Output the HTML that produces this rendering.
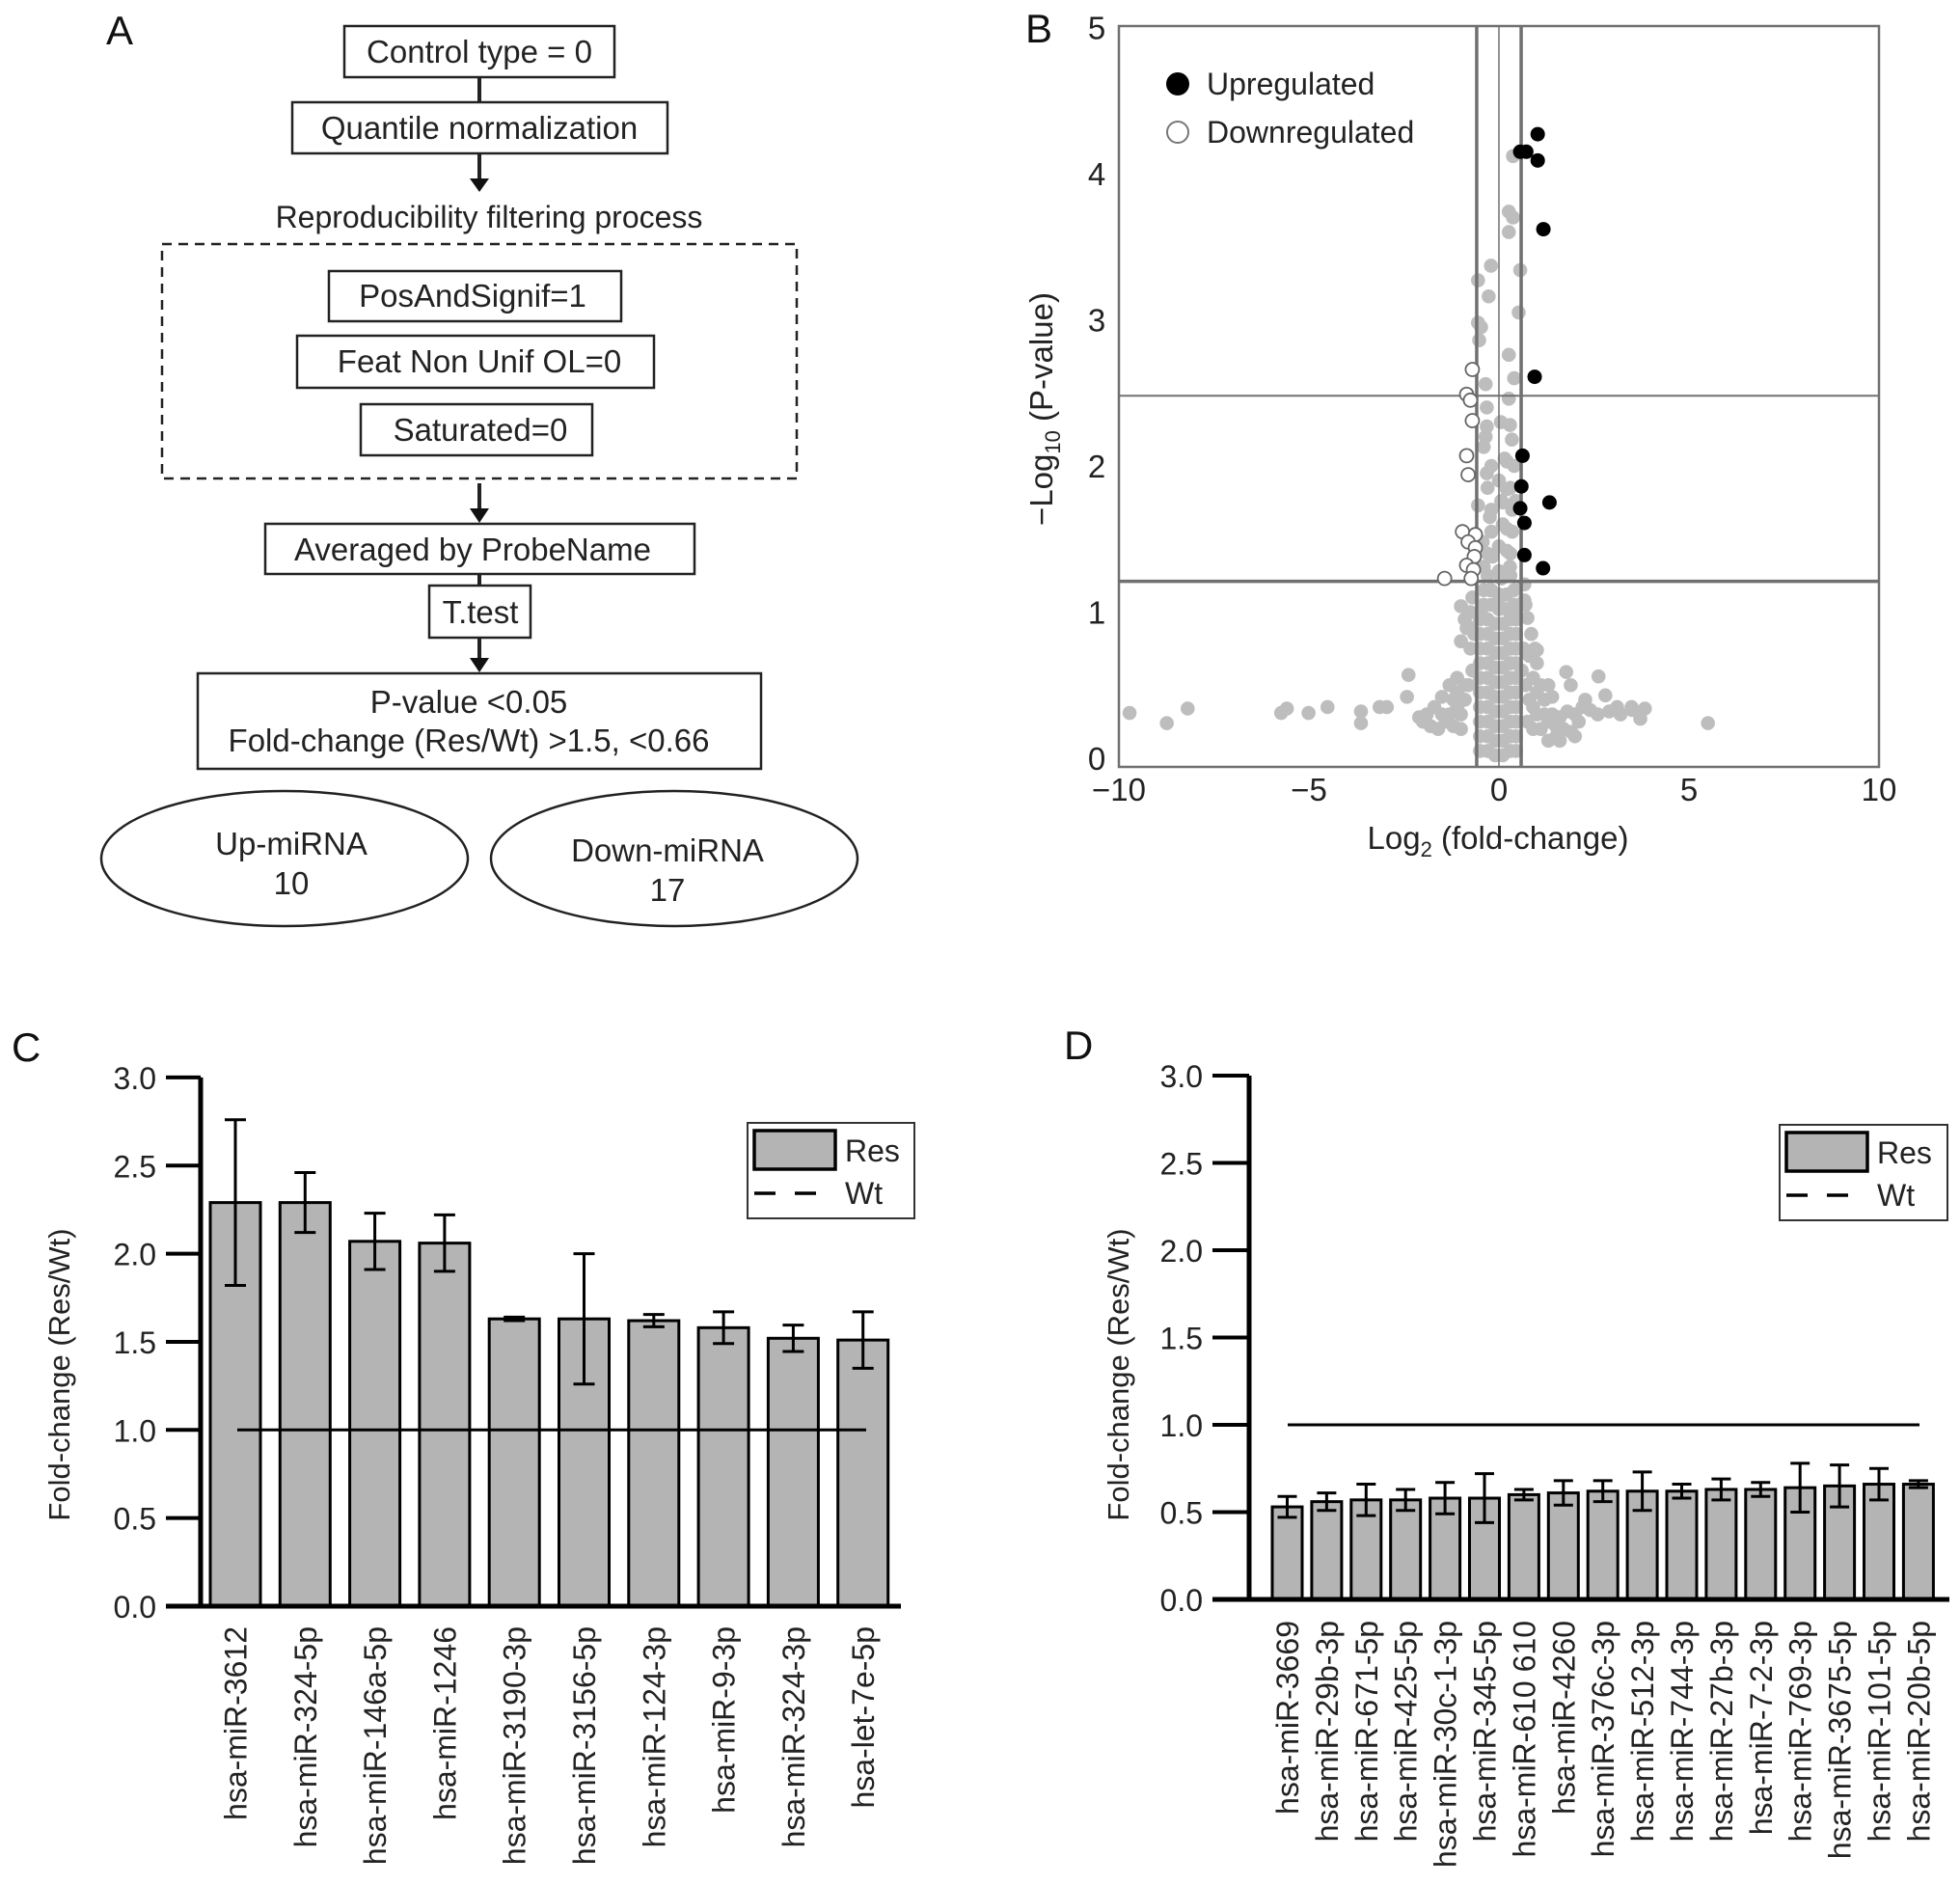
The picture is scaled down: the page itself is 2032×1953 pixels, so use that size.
<!DOCTYPE html>
<html><head><meta charset="utf-8"><style>
html,body{margin:0;padding:0;background:#fff;}
svg{display:block;font-family:"Liberation Sans",Arial,sans-serif;}
</style></head><body>
<svg id="fig" width="2032" height="1953" viewBox="0 0 2032 1953" xmlns="http://www.w3.org/2000/svg">
<rect width="2032" height="1953" fill="#fff"/>
<g id="panelA" fill="none" stroke="#222" stroke-width="2.5" font-size="33">
<text x="110" y="46" font-size="42" fill="#111" stroke="none">A</text>
<rect x="357" y="27" width="280" height="53"/>
<text x="497" y="65" text-anchor="middle" fill="#222" stroke="none">Control type = 0</text>
<line x1="497" y1="80" x2="497" y2="106" stroke-width="4"/>
<rect x="303" y="106" width="389" height="53"/>
<text x="497" y="144" text-anchor="middle" fill="#222" stroke="none">Quantile normalization</text>
<line x1="497" y1="159" x2="497" y2="188" stroke-width="4"/>
<polygon points="487,185 507,185 497,199" fill="#111" stroke="none"/>
<text x="507" y="236" text-anchor="middle" fill="#222" stroke="none" font-size="32">Reproducibility filtering process</text>
<rect x="168" y="253" width="658" height="243" stroke-dasharray="10,7"/>
<rect x="341" y="281" width="303" height="52"/>
<text x="490" y="318" text-anchor="middle" fill="#222" stroke="none">PosAndSignif=1</text>
<rect x="308" y="348" width="370" height="54"/>
<text x="497" y="386" text-anchor="middle" fill="#222" stroke="none">Feat Non Unif OL=0</text>
<rect x="374" y="419" width="240" height="53"/>
<text x="498" y="457" text-anchor="middle" fill="#222" stroke="none">Saturated=0</text>
<line x1="497" y1="501" x2="497" y2="530" stroke-width="4"/>
<polygon points="487,527 507,527 497,542" fill="#111" stroke="none"/>
<rect x="275" y="543" width="445" height="52"/>
<text x="490" y="581" text-anchor="middle" fill="#222" stroke="none">Averaged by ProbeName</text>
<line x1="497" y1="595" x2="497" y2="607" stroke-width="4"/>
<rect x="445" y="607" width="105" height="54"/>
<text x="498" y="646" text-anchor="middle" fill="#222" stroke="none">T.test</text>
<line x1="497" y1="661" x2="497" y2="684" stroke-width="4"/>
<polygon points="487,682 507,682 497,697" fill="#111" stroke="none"/>
<rect x="205" y="698" width="584" height="99"/>
<text x="486" y="739" text-anchor="middle" fill="#222" stroke="none">P-value &lt;0.05</text>
<text x="486" y="779" text-anchor="middle" fill="#222" stroke="none">Fold-change (Res/Wt) &gt;1.5, &lt;0.66</text>
<ellipse cx="295" cy="890" rx="190" ry="70"/>
<text x="302" y="886" text-anchor="middle" fill="#222" stroke="none">Up-miRNA</text>
<text x="302" y="927" text-anchor="middle" fill="#222" stroke="none">10</text>
<ellipse cx="699" cy="890" rx="190" ry="70"/>
<text x="692" y="893" text-anchor="middle" fill="#222" stroke="none">Down-miRNA</text>
<text x="692" y="934" text-anchor="middle" fill="#222" stroke="none">17</text>
</g>
<g id="panelB"></g>
<g id="panelC"></g>
<g id="panelD"></g>
</svg>
<script>
// ---------- Volcano data ----------
const upX = [1.02,0.56,0.72,1.02,1.17,0.94,0.62,0.59,1.33,0.56,0.67,0.67,1.16];
const upY = [4.27,4.15,4.15,4.09,3.62,2.61,2.07,1.86,1.75,1.71,1.61,1.39,1.30];
const downX = [-0.70,-0.85,-0.75,-0.70,-0.85,-0.81,-0.96,-0.62,-0.81,-0.62,-0.65,-0.85,-0.67,-1.43,-0.73];
const downY = [2.66,2.49,2.45,2.31,2.07,1.94,1.55,1.53,1.48,1.44,1.38,1.32,1.29,1.23,1.23];
const grayX = [-9.72,-8.74,-8.19,-5.73,-5.58,-5.01,-4.51,-3.63,-3.63,-3.14,-2.95,-2.38,-2.42,5.5,3.84,3.72,3.49,3.11,2.8,2.62,1.77,1.89,2.27,1.51,1.0,
 0.37,0.26,0.37,0.26,-0.21,0.56,-0.55,-0.27,0.52,-0.55,-0.47,-0.52,0.26,-0.35,0.40,0.26,-0.32,-0.32,0.29,0.34,-0.40,0.21,-0.32,0.21,0.06,0.44,-0.55,-0.24,0.21,-0.43,0.21,-0.17,-0.40,0.29,0.06,0.67,-1.0,0.67,-0.85,0.75,-0.24,0.06,-0.47,0.37,
 -0.5,-0.3,-0.1,0.1,0.3,0.45,-0.5,-0.3,-0.1,0.1,0.3,0.45,-0.5,-0.3,-0.1,0.1,0.3,0.45,-0.5,-0.3,-0.1,0.1,0.3,0.45,-0.5,-0.3,-0.1,0.1,0.3,0.45,-0.5,-0.3,-0.1,0.1,0.3,0.45,
 -0.5,-0.3,-0.1,0.1,0.3,0.45,-0.5,-0.3,-0.1,0.1,0.3,0.45,-0.5,-0.3,-0.1,0.1,0.3,0.45,-0.5,-0.3,-0.1,0.1,0.3,0.45,-0.4,-0.2,0.0,0.2,0.4,-0.4,-0.2,0.0,0.2,0.4,
 -0.3,0.0,0.3,-0.3,0.0,0.3,-0.2,0.1,0.35,-0.2,0.1,0.35,-0.3,0.0,0.3,-0.2,0.15,0.4,-0.35,0.05,
 -0.7,-0.8,-0.9,-0.75,0.6,0.7,0.8,0.9,0.65,0.75,-1.0,-1.1,-1.2,-1.3,-1.5,-1.7,-1.9,-2.1,-1.0,-1.2,-1.4,-1.6,-1.8,-2.0,-1.1,-1.3,-1.5,-0.9,-1.1,-0.8,-1.0,-0.7,-0.9,-0.75,-0.65,
 1.0,1.2,1.4,1.6,1.8,2.0,2.2,2.4,2.6,2.9,3.2,3.5,0.9,1.1,1.3,1.5,1.7,1.9,2.1,1.0,1.2,1.4,0.9,1.1,1.3,0.8,1.0,0.85,0.95,0.7,1.6,2.0,1.3];
const grayY = [0.31,0.24,0.34,0.31,0.34,0.31,0.35,0.32,0.24,0.35,0.35,0.57,0.42,0.24,0.34,0.27,0.35,0.35,0.43,0.56,0.59,0.50,0.40,0.15,0.74,
 4.12,3.74,3.70,3.60,3.37,3.34,3.27,3.16,3.05,2.98,2.95,2.86,2.76,2.56,2.60,2.46,2.40,2.27,2.28,2.18,2.13,2.03,1.95,1.84,1.76,1.76,1.73,1.65,1.57,1.48,1.42,1.38,1.31,1.31,1.23,1.19,1.04,1.08,0.89,0.96,1.15,1.11,1.0,1.0,
 0.05,0.05,0.02,0.02,0.05,0.05,0.15,0.15,0.12,0.12,0.15,0.15,0.25,0.25,0.22,0.22,0.25,0.25,0.35,0.35,0.32,0.32,0.35,0.35,0.45,0.45,0.42,0.42,0.45,0.45,0.55,0.55,0.52,0.52,0.55,0.55,
 0.65,0.65,0.62,0.62,0.65,0.65,0.75,0.75,0.72,0.72,0.75,0.75,0.85,0.85,0.82,0.82,0.85,0.85,0.95,0.95,0.92,0.92,0.95,0.95,1.05,1.05,1.02,1.02,1.05,1.15,1.15,1.12,1.12,1.15,
 1.25,1.28,1.25,1.4,1.45,1.4,1.55,1.6,1.55,1.7,1.75,1.7,1.85,1.9,1.85,2.0,2.05,2.0,2.2,2.3,
 0.6,0.5,0.4,0.75,0.6,0.5,0.4,0.35,0.75,0.25,0.3,0.35,0.4,0.3,0.3,0.35,0.3,0.28,0.2,0.22,0.25,0.2,0.22,0.25,0.45,0.5,0.42,0.5,0.55,0.9,0.8,1.1,0.95,1.0,0.85,
 0.3,0.3,0.3,0.28,0.32,0.3,0.35,0.33,0.3,0.32,0.3,0.33,0.2,0.2,0.25,0.22,0.2,0.18,0.25,0.45,0.4,0.42,0.55,0.5,0.5,0.7,0.65,0.85,0.75,1.05,0.12,0.15,0.12];

const NS='http://www.w3.org/2000/svg';
function mk(tag, attrs, parent, txt){const e=document.createElementNS(NS,tag);for(const k in attrs)e.setAttribute(k,attrs[k]);if(txt!==undefined)e.textContent=txt;parent.appendChild(e);return e;}

(function(){
 const g=document.getElementById('panelB');
 const X0=1160,X1=1948,Y0=786,PU=151.5,YT=27,YB=795;
 const xs=v=>X0+(v+10)*(X1-X0)/20, ys=v=>Y0-v*PU;
 const t=mk('text',{x:1063,y:44,'font-size':42,fill:'#111'},g,'B');
 
 
 for(let i=0;i<grayX.length;i++){
  const c=mk('circle',{cx:xs(grayX[i]),cy:ys(grayY[i]),r:7.3,fill:'#bdbdbd'},g);
  
  
 }
 const lc='#707070';
 const frame=mk('rect',{x:X0,y:YT,width:X1-X0,height:YB-YT,fill:'none',stroke:lc,'stroke-width':2.5},g);
 
 
 [[xs(-0.585),3.5],[xs(0),1.5],[xs(0.585),3.5]].forEach(a=>{
  const l=mk('line',{x1:a[0],y1:YT,x2:a[0],y2:YB,stroke:lc,'stroke-width':a[1]},g);
  
  
 });
 [[ys(2.48),2],[ys(1.21),3.5]].forEach(a=>{
  const l=mk('line',{x1:X0,y1:a[0],x2:X1,y2:a[0],stroke:lc,'stroke-width':a[1]},g);
  
  
 });
 for(let i=0;i<downX.length;i++){
  const c=mk('circle',{cx:xs(downX[i]),cy:ys(downY[i]),r:7,fill:'#fff',stroke:'#666','stroke-width':1.8},g);
  
  
 }
 for(let i=0;i<upX.length;i++){
  const c=mk('circle',{cx:xs(upX[i]),cy:ys(upY[i]),r:7.5,fill:'#000'},g);
  
  
 }
 ['0','1','2','3','4','5'].forEach((s,i)=>{
  const tt=mk('text',{x:1137,y:ys(i)+12,'text-anchor':'middle','font-size':33,fill:'#222'},g,s);
  
  
 });
 [['\u221210',-10],['\u22125',-5],['0',0],['5',5],['10',10]].forEach(a=>{
  const tt=mk('text',{x:xs(a[1]),y:830,'text-anchor':'middle','font-size':33,fill:'#222'},g,a[0]);
  
  
 });
 const xt=mk('text',{x:1553,y:880,'text-anchor':'middle','font-size':33,fill:'#222'},g);
 xt.innerHTML='Log<tspan font-size="22" dy="8">2</tspan><tspan dy="-8"> (fold-change)</tspan>';
 
 
 const yt=mk('text',{x:0,y:0,'text-anchor':'middle','font-size':33,fill:'#222',transform:'translate(1091,424) rotate(-90)'},g);
 yt.innerHTML='\u2212Log<tspan font-size="22" dy="8">10</tspan><tspan dy="-8"> (P-value)</tspan>';
 
 
 const l1=mk('circle',{cx:1221,cy:87,r:12,fill:'#000'},g);
 
 
 const l1t=mk('text',{x:1251,y:98,'font-size':32,fill:'#222'},g,'Upregulated');
 
 
 const l2=mk('circle',{cx:1221,cy:137,r:11,fill:'#fff',stroke:'#777','stroke-width':2},g);
 
 
 const l2t=mk('text',{x:1251,y:148,'font-size':32,fill:'#222'},g,'Downregulated');
 
 
})();

const cCats = ['hsa-miR-3612','hsa-miR-324-5p','hsa-miR-146a-5p','hsa-miR-1246','hsa-miR-3190-3p','hsa-miR-3156-5p','hsa-miR-124-3p','hsa-miR-9-3p','hsa-miR-324-3p','hsa-let-7e-5p'];
const cVals = [2.29,2.29,2.07,2.06,1.63,1.63,1.62,1.58,1.52,1.51];
const cErr  = [0.47,0.17,0.16,0.16,0.01,0.37,0.035,0.09,0.075,0.16];
const dCats = ['hsa-miR-3669','hsa-miR-29b-3p','hsa-miR-671-5p','hsa-miR-425-5p','hsa-miR-30c-1-3p','hsa-miR-345-5p','hsa-miR-610 610','hsa-miR-4260','hsa-miR-376c-3p','hsa-miR-512-3p','hsa-miR-744-3p','hsa-miR-27b-3p','hsa-miR-7-2-3p','hsa-miR-769-3p','hsa-miR-3675-5p','hsa-miR-101-5p','hsa-miR-20b-5p'];
const dVals = [0.53,0.56,0.57,0.57,0.58,0.58,0.60,0.61,0.62,0.62,0.62,0.63,0.63,0.64,0.65,0.66,0.66];
const dErr  = [0.06,0.05,0.09,0.06,0.09,0.14,0.03,0.07,0.06,0.11,0.04,0.06,0.04,0.14,0.12,0.09,0.02];
const yTicks = ['0.0','0.5','1.0','1.5','2.0','2.5','3.0'];
const wtLevel = 1.0;

function barChart(g, o, cats, vals, errs){
 const ys=v=>o.y0-v*o.pu;
 const xc=i=>o.b0+o.bw/2+i*o.step;
 const lab=mk('text',{x:o.lx,y:o.ly,'font-size':42,fill:'#111'},g,o.letter);
 
 
 for(let i=0;i<cats.length;i++){
  const r=mk('rect',{x:xc(i)-o.bw/2,y:ys(vals[i]),width:o.bw,height:o.y0-ys(vals[i]),fill:'#b4b4b4',stroke:'#000','stroke-width':3},g);
  
  
  const e=mk('path',{d:`M${xc(i)-o.cap},${ys(vals[i]+errs[i])}H${xc(i)+o.cap}M${xc(i)},${ys(vals[i]+errs[i])}V${ys(vals[i]-errs[i])}M${xc(i)-o.cap},${ys(vals[i]-errs[i])}H${xc(i)+o.cap}`,stroke:'#000','stroke-width':3,fill:'none'},g);
  
  
  const t=mk('text',{x:0,y:0,'text-anchor':'end','font-size':o.fs,fill:'#222',transform:`translate(${xc(i)+o.fs*0.36},${o.labTop}) rotate(-90)`},g,cats[i]);
  
  
 }
 const wt=mk('line',{x1:o.wt0,x2:o.wt1,y1:ys(wtLevel),y2:ys(wtLevel),stroke:'#000','stroke-width':3},g);
 
 
 const ax=mk('path',{d:`M${o.ax},${ys(3)}V${o.y0}M${o.xa0},${o.y0}H${o.xa1}`,stroke:'#000','stroke-width':5,fill:'none'},g);
 
 
 yTicks.forEach(s=>{
  const v=parseFloat(s);
  const tk=mk('line',{x1:o.xa0,x2:o.ax,y1:ys(v),y2:ys(v),stroke:'#000','stroke-width':4},g);
  
  
  const tl=mk('text',{x:o.xa0-10,y:ys(v)+12,'text-anchor':'end','font-size':32,fill:'#222'},g,s);
  
  
 });
 const yt=mk('text',{x:0,y:0,'text-anchor':'middle','font-size':31,fill:'#222',transform:`translate(${o.ytx},${o.yty}) rotate(-90)`},g,'Fold-change (Res/Wt)');
 
 
 const lb=mk('rect',{x:o.lg[0],y:o.lg[1],width:o.lg[2],height:o.lg[3],fill:'#fff',stroke:'#333','stroke-width':2},g);
 
 
 const sw=mk('rect',{x:o.lg[0]+7,y:o.lg[1]+8,width:84,height:40,fill:'#b4b4b4',stroke:'#000','stroke-width':3.5},g);
 
 
 const rt=mk('text',{x:o.lg[0]+101,y:o.lg[1]+40,'font-size':32,fill:'#222'},g,'Res');
 
 
 const dl=mk('line',{x1:o.lg[0]+7,x2:o.lg[0]+76,y1:o.lg[1]+73,y2:o.lg[1]+73,stroke:'#000','stroke-width':3.5,'stroke-dasharray':'22,20'},g);
 
 
 const wtt=mk('text',{x:o.lg[0]+101,y:o.lg[1]+84,'font-size':32,fill:'#222'},g,'Wt');
 
 
}
barChart(document.getElementById('panelC'),{letter:'C',lx:12,ly:1100,y0:1665,pu:182.7,b0:218,bw:52,step:72.3,cap:11,ax:208,xa0:172,xa1:934,wt0:246,wt1:898,labTop:1686,fs:32,ytx:72,yty:1425,lg:[775,1164,173,99]},cCats,cVals,cErr);
barChart(document.getElementById('panelD'),{letter:'D',lx:1103,ly:1098,y0:1658,pu:181,b0:1319,bw:31,step:40.9,cap:10,ax:1295,xa0:1257,xa1:2021,wt0:1335,wt1:1990,labTop:1680,fs:32,ytx:1170,yty:1425,lg:[1845,1166,174,99]},dCats,dVals,dErr);
</script>
</body></html>
